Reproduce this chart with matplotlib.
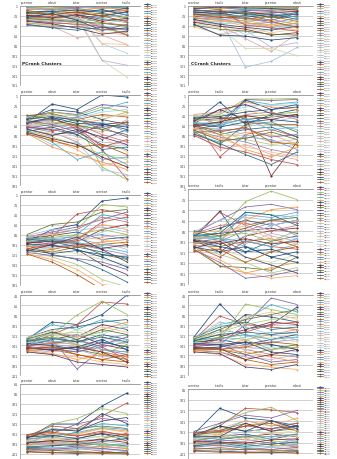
import matplotlib
matplotlib.use("Agg")
import matplotlib.pyplot as plt

# category order on the two kinds of chart
pc_cats = ["pcentar", "sdout", "tvtar", "ccentar", "tradio"]
cc_cats = ["ccentar", "tradio", "tvtar", "pcentar", "sdout"]

# PCrank clusters (rank per category, one row per series)
pc1 = [[1, 2, 1, 3, 2], [3, 5, 4, 1, 6], [5, 3, 8, 6, 4], [7, 9, 6, 12, 10], [9, 7, 12, 10, 15],
       [11, 14, 10, 18, 9], [13, 11, 16, 8, 20], [15, 18, 14, 22, 12], [17, 13, 20, 16, 25],
       [19, 22, 18, 28, 30], [21, 17, 25, 20, 14], [23, 26, 22, 35, 40], [25, 20, 28, 24, 18],
       [27, 30, 26, 45, 50], [29, 24, 32, 30, 22], [31, 34, 30, 40, 59], [33, 28, 36, 26, 35],
       [35, 38, 34, 55, 59], [37, 32, 40, 38, 28], [39, 42, 65, 60, 79], [2, 4, 27, 111, 145],
       [6, 10, 20, 111, 121], [12, 15, 24, 77, 97], [18, 21, 15, 77, 79], [24, 16, 30, 50, 45],
       [30, 35, 38, 42, 60], [36, 40, 44, 48, 55], [40, 44, 42, 50, 38], [4, 8, 2, 5, 3],
       [8, 6, 11, 4, 8], [14, 12, 9, 14, 5], [20, 25, 19, 32, 26], [26, 29, 33, 36, 42],
       [32, 37, 46, 58, 52], [38, 45, 50, 44, 48], [10, 19, 13, 21, 33]]
pc2 = [[55, 19, 30, 1, 5], [60, 45, 70, 110, 169], [50, 40, 55, 145, 170], [45, 35, 40, 20, 25],
       [58, 50, 45, 30, 15], [62, 55, 60, 50, 35], [48, 30, 35, 50, 60], [65, 70, 80, 60, 55],
       [52, 60, 50, 70, 80], [57, 48, 65, 90, 70], [70, 80, 75, 100, 110], [42, 38, 50, 40, 45],
       [66, 75, 95, 130, 125], [54, 65, 60, 80, 95], [73, 85, 100, 120, 130], [46, 52, 45, 65, 60],
       [61, 58, 70, 55, 75], [68, 90, 110, 140, 135], [75, 100, 95, 150, 160], [50, 55, 65, 75, 50],
       [59, 62, 55, 45, 40], [63, 68, 85, 95, 100], [44, 42, 48, 35, 30], [71, 78, 90, 85, 115],
       [56, 46, 58, 60, 65], [64, 72, 65, 105, 90], [53, 35, 42, 25, 35], [67, 60, 75, 65, 85],
       [72, 95, 130, 115, 140], [78, 105, 120, 135, 150], [49, 44, 52, 58, 70], [76, 88, 100, 125, 145],
       [41, 50, 62, 70, 55], [69, 82, 70, 85, 100], [74, 65, 80, 110, 105], [79, 92, 105, 100, 120]]
pc3 = [[95, 70, 60, 13, 7], [90, 85, 39, 30, 40], [100, 80, 70, 20, 25], [85, 75, 65, 50, 35],
       [105, 95, 80, 40, 50], [110, 100, 90, 60, 70], [88, 82, 75, 90, 85], [98, 90, 95, 70, 60],
       [115, 110, 100, 120, 130], [92, 100, 110, 140, 160], [102, 120, 130, 150, 175],
       [108, 115, 105, 100, 95], [96, 88, 85, 80, 90], [86, 78, 70, 45, 55], [112, 125, 140, 170, 185],
       [104, 105, 100, 110, 120], [94, 92, 88, 100, 105], [118, 130, 150, 180, 185], [82, 70, 72, 65, 75],
       [100, 96, 92, 85, 80], [106, 112, 118, 130, 140], [90, 95, 100, 95, 110], [114, 105, 95, 75, 65],
       [84, 80, 85, 90, 100], [99, 102, 110, 125, 145], [109, 98, 90, 55, 45], [93, 86, 80, 70, 80],
       [116, 122, 128, 135, 150], [87, 90, 96, 105, 115], [103, 108, 102, 95, 90],
       [111, 118, 112, 120, 125], [97, 93, 98, 108, 100], [80, 60, 55, 35, 30], [113, 100, 85, 110, 135],
       [89, 94, 105, 115, 128], [119, 135, 160, 190, 190]]
pc4 = [[130, 95, 100, 80, 41], [140, 120, 100, 55, 59], [138, 120, 81, 53, 80], [145, 130, 189, 150, 160],
       [128, 100, 110, 90, 100], [150, 140, 130, 110, 95], [132, 125, 135, 120, 130],
       [142, 130, 120, 140, 150], [148, 145, 150, 160, 170], [136, 115, 125, 100, 110],
       [126, 110, 105, 95, 90], [152, 150, 160, 170, 175], [134, 140, 145, 130, 120],
       [144, 135, 140, 155, 165], [130, 120, 115, 125, 140], [146, 150, 155, 145, 135],
       [138, 130, 125, 115, 105], [154, 160, 165, 175, 180], [128, 118, 120, 135, 145],
       [140, 145, 140, 150, 155], [132, 128, 110, 120, 100], [150, 155, 150, 165, 160],
       [136, 140, 135, 140, 130], [126, 112, 125, 105, 115], [148, 150, 145, 130, 150],
       [142, 138, 130, 145, 170], [134, 125, 140, 160, 140], [144, 148, 155, 140, 125],
       [130, 135, 130, 150, 155], [152, 158, 170, 160, 165], [138, 142, 150, 135, 145],
       [146, 152, 145, 155, 175], [129, 115, 130, 110, 120], [155, 160, 175, 180, 185],
       [133, 128, 135, 125, 135], [149, 145, 160, 170, 160]]
pc5 = [[170, 141, 141, 105, 79], [165, 145, 150, 125, 99], [175, 141, 130, 110, 120],
       [180, 160, 141, 130, 135], [168, 150, 155, 140, 145], [185, 170, 160, 150, 155],
       [172, 165, 158, 120, 140], [190, 185, 180, 170, 160], [162, 155, 150, 145, 150],
       [178, 175, 170, 160, 175], [188, 190, 185, 180, 185], [166, 160, 165, 155, 165],
       [182, 178, 175, 185, 190], [194, 195, 190, 195, 200], [170, 168, 172, 165, 170],
       [176, 180, 185, 190, 195], [186, 188, 192, 185, 180], [164, 158, 162, 150, 158],
       [174, 172, 168, 175, 182], [192, 190, 195, 198, 201], [168, 162, 160, 170, 165],
       [180, 182, 178, 180, 188], [184, 186, 190, 192, 196], [172, 170, 175, 178, 172],
       [196, 198, 200, 197, 199], [163, 157, 165, 158, 162], [177, 176, 180, 182, 186],
       [189, 192, 188, 190, 194], [171, 166, 158, 148, 152], [183, 180, 183, 187, 190],
       [167, 164, 170, 160, 168], [179, 174, 176, 172, 178], [191, 194, 196, 199, 197],
       [169, 152, 155, 135, 128], [187, 184, 182, 176, 170], [197, 199, 198, 200, 201]]

# CCrank clusters
cc1 = [[1, 1, 3, 2, 1], [3, 2, 1, 5, 4], [5, 7, 6, 3, 8], [7, 4, 9, 10, 6], [9, 12, 8, 7, 14],
       [11, 9, 15, 13, 10], [13, 16, 12, 20, 18], [15, 11, 18, 15, 12], [17, 20, 14, 25, 22],
       [19, 15, 24, 18, 28], [21, 25, 20, 30, 16], [23, 18, 28, 22, 32], [25, 28, 26, 35, 26],
       [27, 22, 32, 28, 38], [29, 33, 30, 40, 30], [31, 26, 38, 34, 45], [33, 36, 35, 45, 36],
       [35, 30, 42, 38, 50], [20, 25, 125, 113, 85], [30, 40, 67, 93, 57], [37, 45, 87, 87, 101],
       [39, 60, 50, 85, 75], [41, 35, 59, 47, 40], [43, 58, 45, 55, 48], [38, 60, 62, 70, 65],
       [12, 8, 40, 45, 52], [4, 6, 2, 8, 3], [8, 14, 10, 12, 20], [16, 19, 22, 16, 24],
       [24, 30, 34, 42, 35], [28, 38, 44, 50, 42], [34, 42, 48, 60, 55], [40, 48, 52, 58, 60],
       [6, 3, 5, 6, 9], [10, 13, 16, 24, 14], [18, 24, 25, 32, 44]]
cc2 = [[55, 15, 60, 40, 30], [50, 125, 80, 70, 85], [45, 40, 9, 9, 8], [60, 55, 10, 12, 10],
       [65, 70, 12, 20, 15], [40, 35, 15, 25, 30], [70, 60, 11, 30, 20], [52, 48, 45, 163, 95],
       [75, 100, 60, 55, 75], [58, 30, 50, 45, 40], [62, 80, 70, 65, 85], [48, 45, 55, 60, 60],
       [80, 95, 85, 90, 110], [44, 60, 40, 35, 50], [68, 75, 90, 100, 95], [72, 85, 95, 110, 120],
       [56, 58, 50, 70, 65], [64, 90, 75, 80, 100], [46, 50, 65, 55, 45], [78, 110, 100, 120, 130],
       [54, 42, 30, 45, 35], [66, 68, 80, 95, 90], [42, 38, 25, 20, 18], [74, 88, 105, 115, 125],
       [60, 65, 55, 50, 55], [82, 105, 115, 130, 140], [50, 53, 45, 40, 35], [76, 72, 68, 85, 80],
       [57, 62, 48, 60, 70], [69, 80, 110, 125, 105], [47, 44, 35, 30, 25], [63, 55, 42, 50, 40],
       [71, 92, 88, 75, 90], [53, 30, 20, 38, 45], [79, 98, 120, 140, 115], [61, 75, 65, 95, 100]]
cc3 = [[95, 43, 110, 130, 120], [90, 45, 70, 60, 65], [100, 80, 25, 5, 21], [85, 60, 35, 30, 40],
       [105, 100, 45, 50, 55], [110, 147, 160, 150, 140], [88, 75, 60, 70, 60], [98, 120, 90, 80, 75],
       [115, 147, 150, 155, 130], [92, 85, 80, 75, 85], [102, 95, 120, 100, 90],
       [108, 110, 100, 95, 110], [96, 90, 50, 55, 45], [86, 70, 65, 80, 70], [112, 125, 140, 160, 150],
       [104, 100, 80, 65, 90], [94, 95, 110, 120, 105], [118, 135, 160, 170, 165], [82, 60, 55, 60, 50],
       [100, 85, 70, 90, 100], [106, 115, 130, 140, 125], [90, 100, 105, 85, 95], [114, 105, 90, 70, 60],
       [84, 80, 75, 95, 105], [99, 110, 120, 115, 130], [109, 130, 100, 110, 115], [93, 90, 85, 100, 80],
       [116, 140, 170, 165, 155], [87, 95, 100, 110, 95], [103, 100, 60, 40, 35],
       [111, 120, 110, 130, 140], [97, 105, 95, 105, 100], [80, 90, 75, 60, 55],
       [113, 100, 130, 145, 160], [89, 85, 45, 50, 70], [119, 115, 140, 120, 110]]
cc4 = [[125, 59, 110, 100, 65], [130, 83, 100, 105, 110], [135, 130, 59, 70, 80], [140, 140, 100, 47, 60],
       [128, 100, 90, 60, 75], [150, 145, 130, 120, 110], [132, 120, 80, 85, 95], [142, 125, 110, 95, 100],
       [148, 150, 160, 150, 140], [136, 130, 140, 130, 120], [126, 105, 95, 110, 105],
       [152, 155, 170, 180, 175], [134, 110, 120, 140, 150], [144, 140, 150, 160, 165],
       [130, 115, 100, 90, 85], [146, 150, 140, 135, 130], [138, 135, 125, 115, 120],
       [154, 160, 180, 185, 190], [128, 95, 105, 120, 130], [140, 135, 145, 150, 145],
       [132, 100, 130, 125, 135], [150, 155, 165, 170, 160], [136, 138, 150, 145, 155],
       [126, 120, 85, 75, 90], [148, 145, 135, 140, 150], [142, 130, 115, 100, 95],
       [134, 125, 130, 150, 145], [144, 140, 160, 175, 170], [130, 128, 120, 130, 125],
       [152, 150, 155, 165, 175], [138, 140, 135, 155, 160], [146, 148, 170, 160, 150],
       [129, 110, 90, 80, 70], [155, 158, 185, 190, 180], [133, 120, 115, 120, 115],
       [149, 150, 145, 135, 140]]
cc5 = [[165, 117, 135, 140, 150], [170, 150, 117, 120, 125], [175, 145, 125, 115, 140],
       [160, 145, 130, 135, 121], [168, 160, 140, 150, 145], [180, 165, 150, 140, 160],
       [172, 150, 160, 155, 150], [185, 175, 170, 165, 170], [162, 158, 145, 160, 155],
       [178, 170, 165, 175, 165], [188, 180, 185, 180, 190], [166, 162, 150, 145, 160],
       [182, 176, 180, 185, 175], [194, 190, 195, 190, 195], [170, 165, 172, 170, 168],
       [176, 178, 175, 182, 185], [186, 185, 190, 188, 186], [164, 155, 140, 150, 135],
       [174, 170, 160, 165, 178], [192, 194, 198, 196, 199], [168, 163, 155, 165, 158],
       [180, 182, 178, 172, 180], [184, 188, 185, 190, 192], [172, 168, 175, 160, 170],
       [196, 197, 199, 200, 198], [163, 160, 150, 155, 145], [177, 172, 170, 178, 182],
       [189, 186, 192, 194, 190], [171, 175, 168, 170, 165], [183, 184, 180, 186, 188],
       [167, 150, 160, 140, 155], [179, 180, 182, 176, 174], [191, 193, 194, 195, 196],
       [169, 170, 145, 160, 150], [187, 182, 188, 184, 180], [197, 199, 200, 198, 201]]

# excel-ish series colours
colors = ["#1F497D", "#C0504D", "#9BBB59", "#8064A2", "#4BACC6", "#F79646",
          "#2C4D75", "#772C2A", "#5F7530", "#4D3B62", "#276A7C", "#B65708",
          "#729ACA", "#CD7371", "#AFC97A", "#9983B5", "#6FBDD1", "#F9AB6B",
          "#A7C0DE", "#DFA7A6", "#CDDDAC", "#BCB0CD", "#A5D5E2", "#FAC090"]
markers = ["s", "D", "^", "x", "*", "o"]

W, H = 337, 460
fig = plt.figure(figsize=(W / 100, H / 100), dpi=100)

# panel boxes in pixels: x0, x1, ytop, ybot, rank at top, rank at bottom, last tick, legend height
panels = [
    (pc1, pc_cats, 20, 140, 7, 86, 1, 161, 161, 84, "PCrank Clusters"),
    (cc1, cc_cats, 188, 313, 7, 86, 1, 161, 161, 84, "CCrank Clusters"),
    (pc2, pc_cats, 20, 140, 96, 186, 1, 181, 181, 88, None),
    (cc2, cc_cats, 188, 313, 96, 186, 1, 181, 181, 88, None),
    (pc3, pc_cats, 20, 140, 196, 286, 1, 181, 181, 88, None),
    (cc3, cc_cats, 188, 313, 190, 285, 1, 181, 181, 90, None),
    (pc4, pc_cats, 20, 140, 296, 376, 41, 201, 201, 82, None),
    (cc4, cc_cats, 188, 313, 296, 376, 41, 201, 201, 82, None),
    (pc5, pc_cats, 20, 140, 385, 465, 61, 221, 201, 70, None),
    (cc5, cc_cats, 188, 313, 390, 465, 81, 221, 201, 65, None),
]

for i, (data, cats, x0, x1, yt, yb, rt, rb, last, lh, title) in enumerate(panels):
    ax = fig.add_axes([x0 / W, 1 - yb / H, (x1 - x0) / W, (yb - yt) / H])
    tag = "pc" if cats is pc_cats else "cc"
    for k, row in enumerate(data):
        ax.plot(range(5), row, color=colors[k % len(colors)], lw=0.55,
                marker=markers[k % len(markers)], ms=1.0, mew=0.3,
                label=f"{tag}{i // 2 + 1}_n{k + 1:02d}")
    if cats is pc_cats:
        ax.set_xlim(-0.28, 4.52)
    else:
        ax.set_xlim(-0.23, 4.62)
    ax.set_ylim(rb, rt)
    ax.set_yticks(range(rt, last + 1, 20))
    ax.yaxis.grid(True, color="#BFBFBF", lw=0.5)
    ax.set_axisbelow(True)
    ax.xaxis.tick_top()
    ax.set_xticks(range(5))
    ax.set_xticklabels(cats)
    ax.tick_params(axis="both", labelsize=2.3, length=0, pad=1.5, colors="#404040")
    for s in ["right", "bottom"]:
        ax.spines[s].set_visible(False)
    for s in ["left", "top"]:
        ax.spines[s].set_color("#8C8C8C")
        ax.spines[s].set_linewidth(0.5)
    if title:
        ax.text(0.02, 0.27, title, transform=ax.transAxes, fontsize=3.2,
                fontweight="bold", color="#222222")
    # spread the legend rows over the wanted height
    fs = 1.1
    ls = (lh / len(data) * 0.72) / fs - 1.0
    ax.legend(loc="upper left", bbox_to_anchor=((x1 + 4) / W, 1 - (yt - 3) / H),
              bbox_transform=fig.transFigure, frameon=False, fontsize=fs,
              labelspacing=ls, handlelength=4, handletextpad=0.4,
              borderpad=0, borderaxespad=0)

fig.savefig("out.png", dpi=100)
